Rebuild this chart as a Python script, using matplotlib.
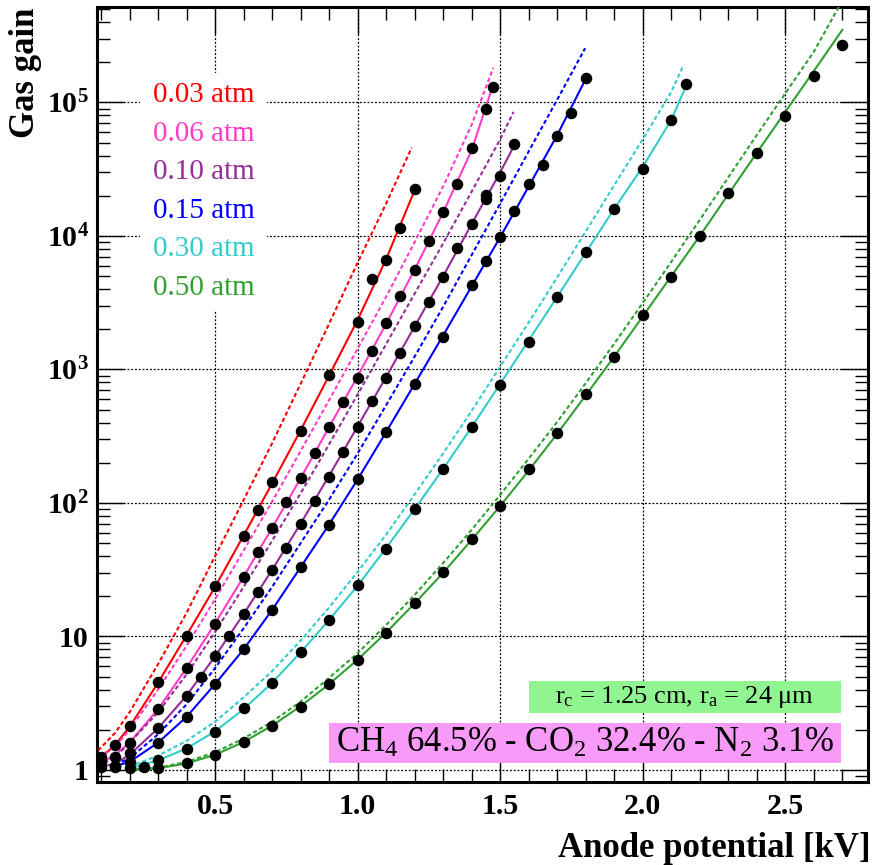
import numpy as np
import matplotlib
matplotlib.use("Agg")
import matplotlib.pyplot as plt
from matplotlib.ticker import MultipleLocator, LogLocator, FuncFormatter, NullFormatter
from matplotlib.patches import Rectangle

plt.rcParams['font.family'] = ['Liberation Serif', 'DejaVu Serif']
plt.rcParams['font.weight'] = 'bold'
plt.rcParams['mathtext.fontset'] = 'custom'
plt.rcParams['mathtext.rm'] = 'Liberation Serif:weight=normal'
plt.rcParams['mathtext.it'] = 'Liberation Serif:style=italic:weight=normal'
plt.rcParams['mathtext.bf'] = 'Liberation Serif:weight=bold'

# ---------------- data ----------------
labels = ["0.03 atm", "0.06 atm", "0.10 atm", "0.15 atm", "0.30 atm", "0.50 atm"]
colors = ["#ff0000", "#ff3cc8", "#962d96", "#0000ff", "#33cccc", "#30a030"]

# measured points
red_v = [0.10, 0.15, 0.20, 0.30, 0.40, 0.50, 0.60, 0.65, 0.70, 0.80, 0.90, 1.00, 1.05, 1.10, 1.15, 1.20]
red_g = [1.26, 1.54, 2.14, 4.56, 10.1, 24, 57, 88, 144, 348, 910, 2280, 4740, 6610, 11500, 22500]

pink_v = [0.10, 0.15, 0.20, 0.30, 0.40, 0.50, 0.60, 0.65, 0.70, 0.75, 0.80, 0.85, 0.90, 0.95,
          1.00, 1.05, 1.10, 1.15, 1.20, 1.25, 1.30, 1.35, 1.40, 1.45, 1.475]
pink_g = [1.15, 1.26, 1.58, 2.86, 5.8, 12.5, 28, 42.8, 65, 102, 154, 238, 373, 574,
          868, 1376, 2244, 3555, 5560, 9230, 15200, 24400, 46000, 89000, 131000]

purple_v = [0.10, 0.15, 0.20, 0.30, 0.40, 0.45, 0.50, 0.55, 0.60, 0.65, 0.70, 0.75, 0.80, 0.85, 0.90,
            0.95, 1.00, 1.05, 1.10, 1.15, 1.20, 1.25, 1.30, 1.35, 1.40, 1.45, 1.45, 1.50, 1.55]
purple_g = [1.06, 1.07, 1.33, 2.05, 3.6, 5.0, 7.1, 10.0, 14.7, 21.5, 31.5, 46, 70, 104, 157,
            242, 373, 584, 859, 1337, 2120, 3220, 4960, 8090, 12400, 20300, 18800, 28100, 48600]

blue_v = [0.15, 0.20, 0.30, 0.40, 0.50, 0.60, 0.70, 0.80, 0.90, 1.00, 1.10, 1.20, 1.30, 1.40,
          1.45, 1.50, 1.55, 1.60, 1.65, 1.70, 1.75, 1.80]
blue_g = [1.06, 1.15, 1.6, 2.48, 4.4, 8.0, 15.8, 33, 68, 150, 342, 774, 1760, 4300,
          6500, 9800, 15300, 24400, 34000, 56000, 84000, 153000]

cyan_v = [0.20, 0.25, 0.30, 0.40, 0.50, 0.60, 0.70, 0.80, 0.90, 1.00, 1.10, 1.20, 1.30, 1.40,
          1.50, 1.60, 1.70, 1.80, 1.90, 2.00, 2.10, 2.15]
cyan_g = [1.03, 1.06, 1.19, 1.44, 1.93, 2.9, 4.5, 7.6, 13.3, 24.3, 45.6, 89.7, 180, 370,
          770, 1600, 3500, 7550, 16000, 32000, 74000, 137000]

green_v = [0.30, 0.40, 0.50, 0.60, 0.70, 0.80, 0.90, 1.00, 1.10, 1.20, 1.30, 1.40, 1.50,
           1.60, 1.70, 1.80, 1.90, 2.00, 2.10, 2.20, 2.30, 2.40, 2.50, 2.60, 2.70]
green_g = [1.03, 1.12, 1.3, 1.63, 2.14, 2.98, 4.4, 6.66, 10.7, 17.7, 30.5, 53.4, 95,
           180, 333, 655, 1247, 2560, 4900, 10000, 21000, 42000, 79000, 159000, 270000]

# fitted curves (solid)
red_fit_v = [0.09, 0.15, 0.2, 0.3, 0.4, 0.5, 0.6, 0.7, 0.8, 0.9, 1.0, 1.1, 1.2]
red_fit_g = [1.18, 1.55, 2.1, 4.5, 10.2, 23.5, 57, 140, 350, 900, 2350, 6700, 22000]
pink_fit_v = [0.09, 0.15, 0.2, 0.3, 0.4, 0.5, 0.6, 0.7, 0.8, 0.9, 1.0, 1.1, 1.2, 1.3, 1.4, 1.475]
pink_fit_g = [1.1, 1.3, 1.6, 2.85, 5.8, 12.5, 28, 65, 153, 370, 890, 2200, 5600, 15000, 44000, 135000]
purple_fit_v = [0.09, 0.15, 0.2, 0.3, 0.4, 0.5, 0.6, 0.7, 0.8, 0.9, 1.0, 1.1, 1.2, 1.3, 1.4, 1.5, 1.55]
purple_fit_g = [1.04, 1.12, 1.3, 2.05, 3.6, 7.1, 14.7, 31.5, 70, 160, 375, 880, 2100, 5000, 12300, 30000, 48000]
blue_fit_v = [0.15, 0.2, 0.3, 0.4, 0.5, 0.6, 0.7, 0.8, 0.9, 1.0, 1.1, 1.2, 1.3, 1.4, 1.5, 1.6, 1.7, 1.8]
blue_fit_g = [1.07, 1.15, 1.6, 2.5, 4.4, 8.0, 15.8, 33, 69, 150, 340, 780, 1800, 4200, 9800, 23500, 57000, 150000]
cyan_fit_v = [0.2, 0.3, 0.4, 0.5, 0.6, 0.7, 0.8, 0.9, 1.0, 1.1, 1.2, 1.3, 1.4, 1.5, 1.6, 1.7, 1.8, 1.9, 2.0, 2.1, 2.15]
cyan_fit_g = [1.03, 1.18, 1.45, 1.95, 2.85, 4.5, 7.6, 13.3, 24, 46, 90, 180, 370, 780, 1650, 3500, 7500,
              16000, 33000, 74000, 130000]
green_fit_v = [0.2, 0.3, 0.4, 0.5, 0.6, 0.7, 0.8, 0.9, 1.0, 1.1, 1.2, 1.3, 1.4, 1.5, 1.6, 1.7, 1.8, 1.9,
               2.0, 2.1, 2.2, 2.3, 2.4, 2.5, 2.6, 2.7]
green_fit_g = [1.0, 1.03, 1.12, 1.3, 1.62, 2.15, 3.0, 4.4, 6.7, 10.7, 17.7, 30, 53, 95, 175, 330, 640, 1250,
               2500, 5000, 10000, 20500, 42000, 85000, 172000, 350000]

# simulated curves (dashed)
red_sim_v = [0.09, 0.15, 0.2, 0.3, 0.4, 0.5, 0.6, 0.7, 0.8, 0.9, 1.0, 1.1, 1.19]
red_sim_g = [1.4, 1.9, 2.7, 6.2, 15, 40, 105, 280, 780, 2200, 6300, 17500, 46000]
pink_sim_v = [0.09, 0.15, 0.2, 0.3, 0.4, 0.5, 0.6, 0.7, 0.8, 0.9, 1.0, 1.1, 1.2, 1.3, 1.4, 1.476]
pink_sim_g = [1.25, 1.5, 2.0, 4.0, 8.5, 19, 44, 102, 245, 590, 1430, 3500, 9000, 23500, 68000, 182000]
purple_sim_v = [0.09, 0.15, 0.2, 0.3, 0.4, 0.5, 0.6, 0.7, 0.8, 0.9, 1.0, 1.1, 1.2, 1.3, 1.4, 1.5, 1.547]
purple_sim_g = [1.08, 1.25, 1.6, 2.7, 5.2, 10.8, 23.5, 52, 118, 275, 650, 1550, 3700, 8800, 21500, 53000, 85000]
blue_sim_v = [0.15, 0.2, 0.3, 0.4, 0.5, 0.6, 0.7, 0.8, 0.9, 1.0, 1.1, 1.2, 1.3, 1.4, 1.5, 1.6, 1.7, 1.798]
blue_sim_g = [1.1, 1.22, 1.85, 3.1, 5.8, 11.5, 23.5, 50, 106, 235, 540, 1250, 2950, 7200, 17500, 43000,
              105000, 255000]
cyan_sim_v = [0.2, 0.3, 0.4, 0.5, 0.6, 0.7, 0.8, 0.9, 1.0, 1.1, 1.2, 1.3, 1.4, 1.5, 1.6, 1.7, 1.8, 1.9, 2.0, 2.1, 2.143]
cyan_sim_g = [1.06, 1.28, 1.65, 2.3, 3.5, 5.5, 9.3, 16.5, 30.5, 58, 116, 235, 490, 1050, 2250, 4900, 10800,
              24000, 53000, 120000, 191000]
green_sim_v = [0.2, 0.3, 0.4, 0.5, 0.6, 0.7, 0.8, 0.9, 1.0, 1.1, 1.2, 1.3, 1.4, 1.5, 1.6, 1.7, 1.8, 1.9,
               2.0, 2.1, 2.2, 2.3, 2.4, 2.5, 2.6, 2.7]
green_sim_g = [1.01, 1.04, 1.15, 1.36, 1.72, 2.3, 3.25, 4.9, 7.5, 12.2, 20.5, 35.5, 63, 115, 215, 405, 790, 1560,
               3150, 6400, 13200, 27500, 57000, 117000, 240000, 580000]

series = [
    (red_v, red_g, red_fit_v, red_fit_g, red_sim_v, red_sim_g),
    (pink_v, pink_g, pink_fit_v, pink_fit_g, pink_sim_v, pink_sim_g),
    (purple_v, purple_g, purple_fit_v, purple_fit_g, purple_sim_v, purple_sim_g),
    (blue_v, blue_g, blue_fit_v, blue_fit_g, blue_sim_v, blue_sim_g),
    (cyan_v, cyan_g, cyan_fit_v, cyan_fit_g, cyan_sim_v, cyan_sim_g),
    (green_v, green_g, green_fit_v, green_fit_g, green_sim_v, green_sim_g),
]

# ---------------- figure ----------------
W, H = 873, 865
fig = plt.figure(figsize=(W / 100, H / 100), dpi=100)
ax = fig.add_axes([97 / W, 83 / H, 771 / W, 775 / H])
ax.set_yscale('log')
ax.set_xlim(0.086, 2.79)
ax.set_ylim(0.813, 5.19e5)

ax.set_axisbelow(True)
ax.grid(True, which='major', color='black', linestyle=(0, (1.5, 1.5)), linewidth=0.9)

for sp in ax.spines.values():
    sp.set_linewidth(2.2)

ax.xaxis.set_major_locator(MultipleLocator(0.5))
ax.xaxis.set_minor_locator(MultipleLocator(0.1))
ax.xaxis.set_major_formatter(FuncFormatter(lambda v, p: f"{v:.1f}"))
ax.yaxis.set_major_locator(LogLocator(base=10, numticks=12))
ax.yaxis.set_minor_locator(LogLocator(base=10, subs=np.arange(2, 10), numticks=12))
ax.yaxis.set_minor_formatter(NullFormatter())


def yfmt(v, pos):
    e = int(round(np.log10(v)))
    if e == 0:
        return "1"
    if e == 1:
        return "10"
    return r"$\mathbf{10^{%d}}$" % e


ax.yaxis.set_major_formatter(FuncFormatter(yfmt))
ax.tick_params(which='both', direction='in', top=True, right=True, width=1.0, color='black')
ax.tick_params(which='major', length=19.5, labelsize=21.5)
ax.tick_params(which='minor', length=9.5)
ax.tick_params(axis='x', which='major', pad=8)
ax.tick_params(axis='y', which='major', pad=6)

for (v, g, fv, fg, sv, sg), c in zip(series, colors):
    ax.plot(fv, fg, color=c, lw=1.5, zorder=3)
    ax.plot(sv, sg, color=c, lw=1.5, linestyle=(0, (2.0, 1.3)), zorder=3)
    ax.plot(v, g, 'o', color='black', ms=8.3, zorder=5, markeredgewidth=0)

# legend block (white background hides the grid)
ax.add_patch(Rectangle((0.0558, 0.609), 0.165, 0.306, transform=ax.transAxes,
                       facecolor='white', edgecolor='none', zorder=1))
for i, (lab, c) in enumerate(zip(labels, colors)):
    ax.text(0.0725, 0.8865 - i * 0.0498, lab, color=c, fontsize=21, fontweight='normal',
            ha='left', va='center', transform=ax.transAxes, zorder=6)

# annotation boxes
ax.add_patch(Rectangle((0.5603, 0.0890), 0.4047, 0.0413, transform=ax.transAxes,
                       facecolor='#90f490', edgecolor='none', zorder=6))
ax.text(0.7627, 0.1096, r"r$_{\mathrm{c}}$ = 1.25 cm, r$_{\mathrm{a}}$ = 24 μm", fontsize=19,
        fontweight='normal', ha='center', va='center', transform=ax.transAxes, zorder=7)
ax.add_patch(Rectangle((0.3009, 0.0245), 0.6641, 0.0516, transform=ax.transAxes,
                       facecolor='#f89af8', edgecolor='none', zorder=6))
ax.text(0.633, 0.0503, r"CH$_{4}$ 64.5% - CO$_{2}$ 32.4% - N$_{2}$ 3.1%", fontsize=25,
        fontweight='normal', ha='center', va='center', transform=ax.transAxes, zorder=7)

fig.text(25 / W, 1 - 8 / H, "Gas gain", rotation=90, ha='center', va='top',
         fontsize=25, fontweight='bold')
fig.text(871 / W, 8 / H, "Anode potential [kV]", ha='right', va='baseline',
         fontsize=25, fontweight='bold')

fig.savefig("out.png", dpi=100)
